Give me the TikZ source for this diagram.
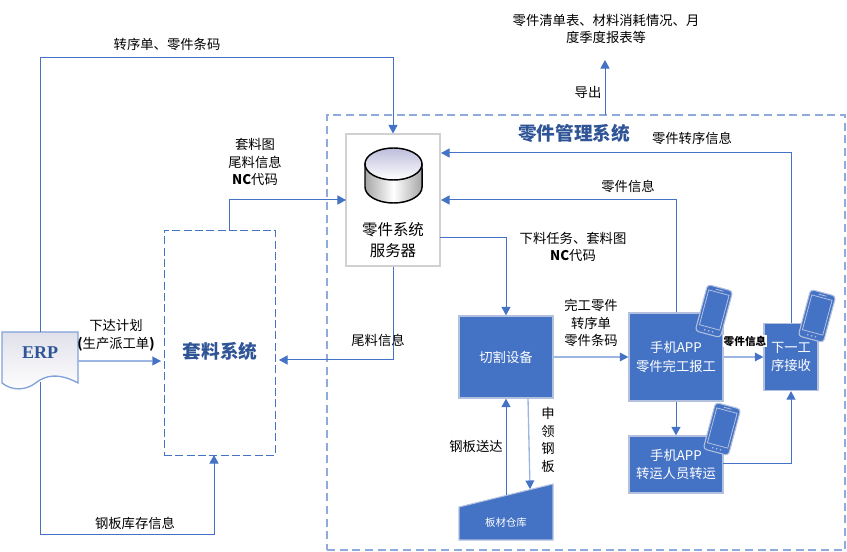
\documentclass[tikz,border=0pt]{standalone}
\usepackage{fontspec}
\setmainfont{Noto Sans CJK SC}
\newfontfamily\latinbold{Liberation Serif}[Scale=1.0]
\usetikzlibrary{arrows.meta,calc}
\definecolor{mainblue}{HTML}{4472C4}
\definecolor{lightblue}{HTML}{9DB5E2}
\definecolor{dashblue}{HTML}{8FAADC}
\definecolor{titleblue}{HTML}{2F5597}
\definecolor{boxedge}{HTML}{B4C1DE}
\tikzset{
  conn/.style={draw=mainblue,line width=0.75pt,-{Triangle[length=6.4pt,width=6.8pt]}},
  connlight/.style={draw=lightblue,line width=1.4pt,-{Triangle[length=6.4pt,width=6.8pt,color=mainblue,line width=0pt]}},
  lab/.style={inner sep=0pt,align=center,font=\fontsize{10pt}{13.2pt}\selectfont,text=black},
  bluebox/.style={draw=boxedge,line width=1pt,fill=mainblue,text=white,inner sep=0pt,align=center,font=\fontsize{10pt}{14pt}\selectfont},
  sysname/.style={inner sep=0pt,font=\fontsize{14pt}{16pt}\selectfont\bfseries,text=titleblue},
  phone/.pic={
    \draw[boxedge,line width=0.8pt,fill=mainblue,rounded corners=2.5pt] (-13,-24) rectangle (13,24);
    \draw[boxedge,line width=0.6pt] (-10.5,-19) rectangle (10.5,17);
    \draw[boxedge,line width=0.6pt] (-4,-21.5) -- (4,-21.5);
    \foreach \q in {-4,0,4}{\fill[boxedge] (\q,20.5) circle (0.9);}
  }
}
\begin{document}
\begin{tikzpicture}[x=0.75pt,y=-0.75pt]
\useasboundingbox (0,0) rectangle (847,552);
% system frame
\node[draw=dashblue,line width=1.4pt,dash pattern=on 6pt off 3.5pt,minimum width=388.5pt,minimum height=326.25pt,inner sep=0pt] (mgmt) at (586,332.5) {};
\node[sysname] (mgmttitle) at (574,133) {零件管理系统};
% server
\node[draw=black!18,line width=0.8pt,fill=white,minimum width=70.5pt,minimum height=99pt,inner sep=0pt] (server) at (393,200) {};
\shadedraw[left color=gray!70,right color=gray!70,middle color=white,draw=black,line width=1.1pt]
  (365,164) -- (365,187) arc[start angle=180,end angle=360,x radius=21.4pt,y radius=12pt] -- (422,164) -- cycle;
\shadedraw[draw=black,line width=1.1pt,top color=blue!30!gray!40,bottom color=white] (393.5,164) ellipse[x radius=21.4pt,y radius=12pt];
\node[lab,font=\fontsize{11.6pt}{15.6pt}\selectfont] (servername) at (393,240) {零件系统\\服务器};
% nesting
\node[draw=mainblue,line width=0.65pt,dash pattern=on 6pt off 2.5pt,minimum width=83.25pt,minimum height=168.75pt,inner sep=0pt] (nest) at (219.5,342.5) {};
\node[sysname] (nesttitle) at (220,351) {套料系统};
% ERP
\shade[top color=blue!20!gray!20,bottom color=white]
  (2,332) -- (78,332) -- (78,383) .. controls (58,372) and (45,376) .. (37,382) .. controls (26,391) and (12,391) .. (2,383) -- cycle;
\draw[draw=lightblue!70!mainblue,line width=1pt]
  (2,332) -- (78,332) -- (78,383) .. controls (58,372) and (45,376) .. (37,382) .. controls (26,391) and (12,391) .. (2,383) -- cycle;
\node[inner sep=0pt,font=\latinbold\fontsize{13.5pt}{15pt}\selectfont\bfseries,text=titleblue] (erp) at (40,353) {ERP};
\coordinate (erpbox) at (40,332);
% blue boxes
\node[bluebox,minimum width=70.5pt,minimum height=61.5pt] (cut) at (506,357) {切割设备};
\node[bluebox,minimum width=70.5pt,minimum height=66pt] (app1) at (676,357) {手机APP\\零件完工报工};
\node[bluebox,minimum width=40.5pt,minimum height=50.25pt] (next) at (791,357) {下一工\\序接收};
\node[bluebox,minimum width=70.5pt,minimum height=42.75pt] (app2) at (676,464.5) {手机APP\\转运人员转运};
\draw[draw=boxedge,line width=0.8pt,fill=mainblue] (459,507) -- (553,484) -- (553,540) -- (459,540) -- cycle;
\node[inner sep=0pt,text=white,font=\fontsize{7.8pt}{9pt}\selectfont] (store) at (506,523) {板材仓库};
% phones
\pic[rotate=-15] at (714,311) {phone};
\pic[rotate=-15] at (722,429) {phone};
\pic[rotate=-15] at (817,316) {phone};
% connector points
\coordinate (a1) at (40,58);
\coordinate (a2) at (393,58);
\coordinate (b0) at (40,382);
\coordinate (b1) at (40,534);
\coordinate (b2) at (214,534);
\coordinate (b3) at (214,455);
\coordinate (c0) at (78,361);
\coordinate (c1) at (161,361);
\coordinate (d0) at (229,230);
\coordinate (d1) at (229,200);
\coordinate (d2) at (346,200);
\coordinate (e1) at (393,360);
\coordinate (e2) at (279,360);
\coordinate (f0) at (440,238);
\coordinate (f1) at (506,238);
\coordinate (g1) at (791,153);
\coordinate (g2) at (441,153);
\coordinate (h1) at (676,200);
\coordinate (h2) at (441,200);
\coordinate (i0) at (723,464);
\coordinate (i1) at (791,464);
\coordinate (j0) at (506,495);
\coordinate (k0) at (528,398);
\coordinate (k1) at (530,489);
\coordinate (l0) at (605,115);
\coordinate (l1) at (605,60);
% connectors
\draw[conn] (erpbox) -- (a1) -- (a2) -- (server.north);
\draw[conn] (b0) -- (b1) -- (b2) -- (b3);
\draw[connlight] (c0) -- (c1);
\draw[conn] (d0) -- (d1) -- (d2);
\draw[conn] (server.south) -- (e1) -- (e2);
\draw[conn] (f0) -- (f1) -- (cut.north);
\draw[connlight] (cut.east) -- (app1.west);
\draw[connlight] (app1.east) -- (next.west);
\draw[conn] (app1.south) -- (app2.north);
\draw[conn] (i0) -- (i1) -- (next.south);
\draw[conn] (next.north) -- (g1) -- (g2);
\draw[conn] (app1.north) -- (h1) -- (h2);
\draw[conn] (j0) -- (cut.south);
\draw[connlight,line width=1pt] (k0) -- (k1);
\draw[conn] (l0) -- (l1);
% labels
\node[lab] (t1) at (167,44) {转序单、零件条码};
\node[lab] (t2) at (135,523) {钢板库存信息};
\node[lab] (t3) at (116,335.5) {下达计划\\\textbf{(}生产派工单\textbf{)}};
\node[lab] (t4) at (255,162) {套料图\\尾料信息\\\textbf{NC}代码};
\node[lab] (t5) at (378,340) {尾料信息};
\node[lab] (t6) at (606,29) {零件清单表、材料消耗情况、月\\度季度报表等};
\node[lab] (t7) at (588,92) {导出};
\node[lab] (t8) at (692,138) {零件转序信息};
\node[lab] (t9) at (628,186) {零件信息};
\node[lab] (t10) at (573,247) {下料任务、套料图\\\textbf{NC}代码};
\node[lab] (t11) at (591,323) {完工零件\\转序单\\零件条码};
\node[lab,fill=white,inner sep=0.5pt,font=\fontsize{8pt}{9pt}\selectfont\bfseries] (t12) at (745,341) {零件信息};
\node[lab] (t13) at (476,446) {钢板送达};
\node[lab] (t14) at (548,440) {申\\领\\钢\\板};
\end{tikzpicture}
\end{document}
